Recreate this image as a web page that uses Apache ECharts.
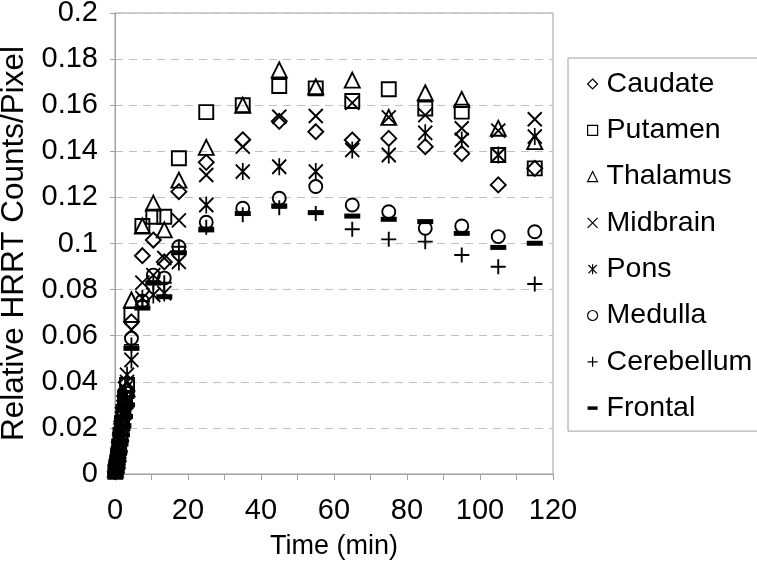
<!DOCTYPE html>
<html>
<head>
<meta charset="utf-8">
<script src="https://cdn.jsdelivr.net/npm/echarts@6/dist/echarts.min.js"></script>
<style>
html,body{margin:0;padding:0;background:#fff;}
#chart{width:757px;height:561px;}
</style>
</head>
<body>
<div id="chart"></div>
<script>
var times = [0.1, 0.35, 0.6, 0.85, 1.15, 1.5, 1.9, 2.3, 2.75, 3.3, 4.5, 7.5, 10.5, 13.5, 17.5, 25, 35, 45, 55, 65, 75, 85, 95, 105, 115];
var seriesNames = ['Caudate', 'Putamen', 'Thalamus', 'Midbrain', 'Pons', 'Medulla', 'Cerebellum', 'Frontal'];
var caudate    = [0.001,0.002,0.004,0.007,0.010,0.014,0.019,0.024,0.029,0.036,0.066,0.0947,0.1015,0.092,0.1225,0.1352,0.145,0.153,0.1485,0.1449,0.1456,0.142,0.139,0.1254,0.1326];
var putamen    = [0.001,0.003,0.005,0.008,0.012,0.017,0.022,0.027,0.033,0.0386,0.069,0.1076,0.1116,0.1116,0.137,0.157,0.160,0.1683,0.1673,0.1618,0.1669,0.1586,0.1572,0.1384,0.1326];
var thalamus   = [0.002,0.004,0.006,0.009,0.013,0.018,0.023,0.028,0.032,0.037,0.0755,0.1076,0.1175,0.1059,0.1275,0.1417,0.160,0.1753,0.168,0.1709,0.1547,0.1654,0.1625,0.150,0.1442];
var midbrain   = [0.001,0.003,0.006,0.009,0.014,0.019,0.024,0.029,0.034,0.040,0.0625,0.083,0.0863,0.0937,0.110,0.1297,0.142,0.155,0.1553,0.161,0.1547,0.1557,0.150,0.149,0.1539];
var pons       = [0.002,0.004,0.007,0.011,0.015,0.020,0.026,0.031,0.037,0.043,0.0495,0.0763,0.0777,0.0785,0.092,0.1167,0.1312,0.1333,0.1312,0.1406,0.1384,0.148,0.1449,0.1384,0.1464];
var medulla    = [0.001,0.003,0.005,0.008,0.012,0.016,0.021,0.026,0.030,0.035,0.0589,0.075,0.0863,0.085,0.0986,0.1092,0.1153,0.1196,0.1247,0.1167,0.1138,0.1066,0.1076,0.103,0.1051];
var cerebellum = [0.001,0.002,0.004,0.007,0.011,0.015,0.019,0.024,0.028,0.033,0.056,0.075,0.083,0.083,0.0986,0.107,0.1125,0.1155,0.113,0.1062,0.1018,0.1008,0.095,0.0899,0.0824];
var frontal    = [0.000,0.002,0.003,0.006,0.009,0.013,0.017,0.021,0.025,0.030,0.0545,0.072,0.0828,0.0769,0.096,0.1059,0.113,0.1163,0.1134,0.1119,0.1105,0.1095,0.1044,0.0983,0.1001];
var xTicks = [0, 20, 40, 60, 80, 100, 120];

var valueSets = [caudate, putamen, thalamus, midbrain, pons, medulla, cerebellum, frontal];
var pathX = 'path://M0,0L10,10M10,0L0,10';
var pathStar = 'path://M0,1L10,11M10,1L0,11M5,0L5,12';
var pathPlus = 'path://M5,0L5,10M0,5L10,5';
var symbols = ['diamond', 'rect', 'triangle', pathX, pathStar, 'circle', pathPlus, 'rect'];
var sizes = [15, 14, 15, 14, [14, 17], 13, 15, [16, 5]];

function pairs(vals){ return times.map(function(t,i){ return [t, vals[i]]; }); }

var series = seriesNames.map(function(name, k){
  var filled = (k === 7);
  return {
    name: name,
    type: 'scatter',
    data: pairs(valueSets[k]),
    symbol: symbols[k],
    symbolSize: sizes[k],
    symbolKeepAspect: false,
    itemStyle: filled ? {color: '#000', borderColor: '#000', borderWidth: 0, opacity: 1}
                      : {color: 'rgba(0,0,0,0)', borderColor: '#000', borderWidth: 1.9, opacity: 1},
    emphasis: {disabled: true}
  };
});

var legendData = seriesNames.map(function(name, k){
  var item = {name: name};
  if (k === 7) {
    item.icon = 'path://M0,0L10,0L10,3.5L0,3.5Z';
    item.itemStyle = {color: '#000', borderWidth: 0};
  } else if (k === 4) {
    item.icon = 'path://M0,1L10,11M10,1L0,11M5,0L5,12';
    item.itemStyle = {color: 'rgba(0,0,0,0)', borderColor: '#000', borderWidth: 1.2};
  } else {
    item.itemStyle = {color: 'rgba(0,0,0,0)', borderColor: '#000', borderWidth: 1.2};
  }
  return item;
});

var chart = echarts.init(document.getElementById('chart'), null, {renderer: 'canvas'});
chart.setOption({
  animation: false,
  backgroundColor: '#fff',
  grid: {left: 115, right: 204, top: 13, bottom: 87, show: true, borderColor: '#a0a0a0', borderWidth: 1,
         containLabel: false, outerBoundsMode: 'none'},
  xAxis: {
    type: 'value', min: 0, max: 120, interval: 10,
    name: 'Time (min)', nameLocation: 'middle', nameGap: 59,
    nameTextStyle: {fontFamily: 'Liberation Sans, Arial', fontSize: 27, color: '#000'},
    axisLine: {show: true, lineStyle: {color: '#a0a0a0', width: 1}},
    axisTick: {show: true, length: 6, inside: false, lineStyle: {color: '#a0a0a0'}},
    axisLabel: {
      fontFamily: 'Liberation Sans, Arial', fontSize: 29, color: '#000', margin: 22,
      formatter: function(v){ return xTicks.indexOf(v) >= 0 ? String(v) : ''; }
    },
    splitLine: {show: false}
  },
  yAxis: {
    type: 'value', min: 0, max: 0.2, interval: 0.02,
    name: 'Relative HRRT Counts/Pixel', nameLocation: 'middle', nameGap: 82,
    nameTextStyle: {fontFamily: 'Liberation Sans, Arial', fontSize: 31.5, color: '#000'},
    axisLine: {show: true, lineStyle: {color: '#a0a0a0', width: 1}},
    axisTick: {show: true, length: 5, lineStyle: {color: '#a0a0a0'}},
    axisLabel: {
      fontFamily: 'Liberation Sans, Arial', fontSize: 29, color: '#000', margin: 17,
      formatter: function(v){ return String(Math.round(v * 100) / 100); }
    },
    splitLine: {show: true, lineStyle: {color: '#c0c0c0', type: [8, 6], width: 1}}
  },
  legend: {
    orient: 'vertical', left: 568, top: 58,
    padding: [11, 6, 8, 19],
    itemGap: 16.3, itemWidth: 10, itemHeight: 10,
    symbolKeepAspect: true,
    borderColor: '#a0a0a0', borderWidth: 1,
    textStyle: {fontFamily: 'Liberation Sans, Arial', fontSize: 28.5, color: '#000', lineHeight: 30, padding: [0, 0, 0, 4]},
    selectedMode: false,
    data: legendData
  },
  series: series
});
</script>
</body>
</html>
